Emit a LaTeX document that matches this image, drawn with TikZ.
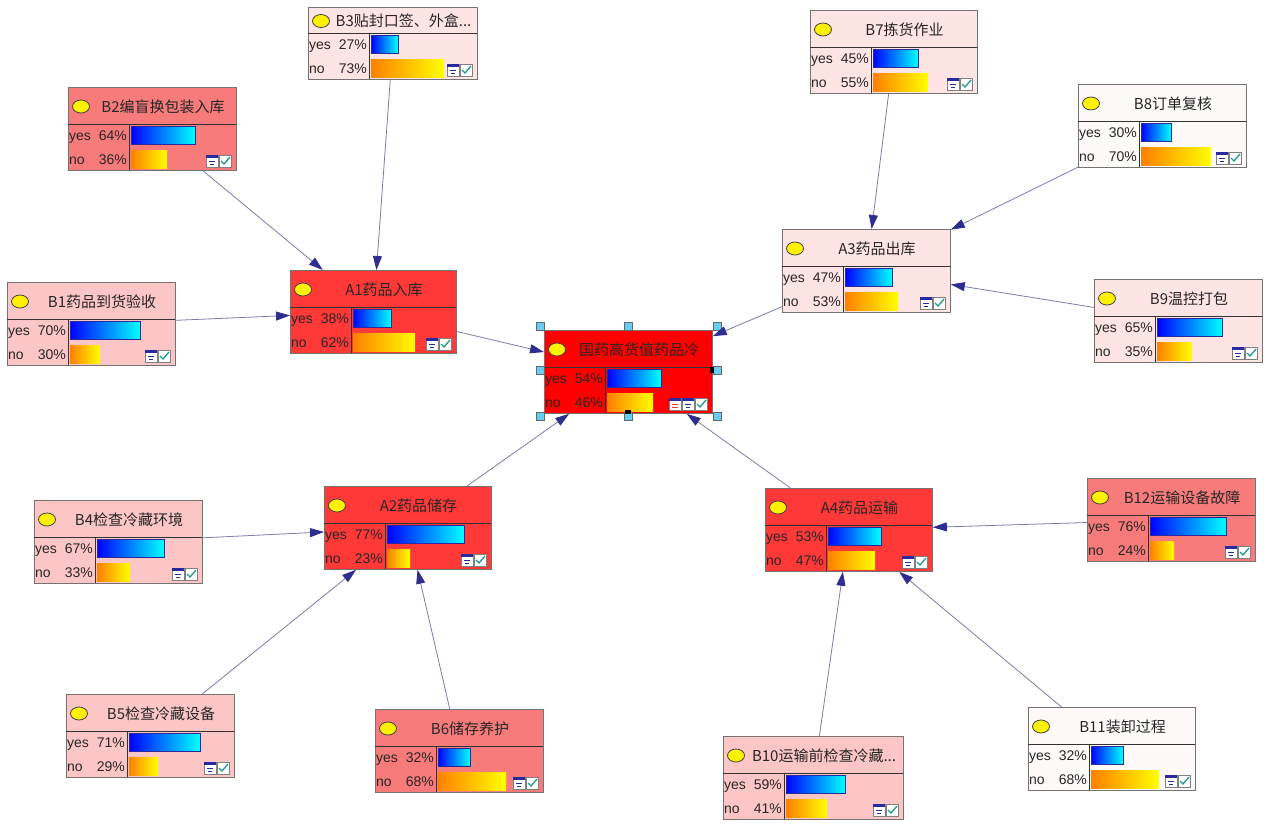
\documentclass[tikz,border=0pt]{standalone}
\usepackage{fontspec}
\setmainfont{Liberation Sans}
\newfontfamily\cjk{Noto Sans CJK SC}
\usetikzlibrary{arrows.meta}

\definecolor{pinkA}{HTML}{FFE4E4}
\definecolor{paleW}{HTML}{FFFAFA}
\definecolor{pinkB}{HTML}{FDC6C6}
\definecolor{salmon}{HTML}{F87B7B}
\definecolor{redA}{HTML}{FF3838}
\definecolor{redC}{HTML}{FF0000}
\definecolor{arrowline}{HTML}{7C7CA8}
\definecolor{arrowhead}{HTML}{2E2E90}
\definecolor{iconblue}{HTML}{2A2AA0}
\definecolor{checkgreen}{HTML}{1E9A8A}
\definecolor{barorange}{HTML}{FF8000}

% one network node: name, x, y, width, header height, fill, title, yes, no
\newcommand{\bnnode}[9]{%
  \pgfmathsetmacro{\bnh}{#5+46}
  \node[netbox, fill=#6, minimum width=#4pt, minimum height=\bnh pt, anchor=north west] (#1) at (#2,#3) {};
  \begin{scope}[shift={(#2,#3)}]
    \draw[divline] (0,#5) -- (#4,#5);
    \draw[divline] (61,#5) -- (61,\bnh);
    \draw[fill=yellow, draw=black!75, line width=0.8pt] (13,#5/2+1) ellipse (8.5pt and 6.5pt);
    \node[titletext] at ({(#4+22)/2},#5/2+1) {#7};
    \node[pcttext, anchor=base west] at (0,#5+16.5) {yes};
    \node[pcttext, anchor=base east] at (60,#5+16.5) {#8\%};
    \node[pcttext, anchor=base west] at (0,#5+40) {no};
    \node[pcttext, anchor=base east] at (60,#5+40) {#9\%};
    \shade[left color=blue, right color=cyan] (63,#5+2) rectangle ({63+#8},#5+20);
    \draw[iconblue, line width=0.8pt] (63,#5+2) rectangle ({63+#8},#5+20);
    \shade[left color=barorange, right color=yellow] (63,#5+26) rectangle ({63+#9},#5+44);
    % table and check icons
    \draw[iconbox] ({#4-30},#5+31) rectangle ++(12,12);
    \fill[iconblue] ({#4-30},#5+31) rectangle ++(12,3);
    \draw[iconblue, line width=1pt] ({#4-27},#5+37) -- ++(6,0) ({#4-26},#5+40) -- ++(4,0);
    \draw[iconbox] ({#4-17},#5+31) rectangle ++(12,12);
    \draw[checkgreen, line width=1.3pt] ({#4-15},#5+37) -- ++(3,3) -- ++(6,-7);
  \end{scope}}

\begin{document}
\begin{tikzpicture}[x=1pt, y=-1pt,
  netbox/.style={rectangle, draw=black!55, line width=0.8pt, inner sep=0pt},
  divline/.style={draw=black!80, line width=1pt},
  titletext/.style={font=\fontsize{15}{17}\cjk, text=black!85, inner sep=0pt},
  pcttext/.style={font=\fontsize{14}{16}\selectfont, text=black!85, inner sep=1pt},
  iconbox/.style={draw=black!50, fill=white, line width=0.6pt},
  handle/.style={draw=black!60, fill=cyan!60, line width=0.5pt},
  link/.style={draw=arrowline, line width=0.8pt, -{Triangle[length=14pt, width=9pt, color=arrowhead]}}]
  \fill[white] (0,0) rectangle (1269,825);
  \useasboundingbox (0,0) rectangle (1269,825);

  % Goal
  \bnnode{goal}{544}{330}{168}{37}{redC}{国药高货值药品冷}{54}{46}
  \begin{scope}[shift={(544,330)}]
    \draw[iconbox] (125,68) rectangle ++(12,12);
    \fill[iconblue] (125,68) rectangle ++(12,3);
    \draw[red!80, line width=1pt] (128,74) -- ++(6,0) (128,77) -- ++(6,0);
  \end{scope}
  \foreach \hx/\hy in {540/326, 628/326, 717/326, 540/370, 717/370, 540/416, 628/416, 717/416}
    \draw[handle] (\hx-4,\hy-4) rectangle ++(8,8);
  \fill[black] (710,367) rectangle ++(4,6);
  \fill[black] (625,410) rectangle ++(6,4);

  % Inbound
  \bnnode{a1}{290}{270}{166}{37}{redA}{A1药品入库}{38}{62}
  \bnnode{b1}{7}{282}{168}{37}{pinkB}{B1药品到货验收}{70}{30}
  \bnnode{b2}{68}{87}{168}{37}{salmon}{B2编盲换包装入库}{64}{36}
  \bnnode{b3}{308}{7}{169}{26}{pinkA}{B3贴封口签、外盒...}{27}{73}

  % Storage
  \bnnode{a2}{324}{486}{167}{37}{redA}{A2药品储存}{77}{23}
  \bnnode{b4}{34}{500}{168}{37}{pinkB}{B4检查冷藏环境}{67}{33}
  \bnnode{b5}{66}{694}{168}{37}{pinkB}{B5检查冷藏设备}{71}{29}
  \bnnode{b6}{375}{709}{168}{37}{salmon}{B6储存养护}{32}{68}

  % Outbound
  \bnnode{a3}{782}{229}{168}{37}{pinkA}{A3药品出库}{47}{53}
  \bnnode{b7}{810}{10}{167}{37}{pinkA}{B7拣货作业}{45}{55}
  \bnnode{b8}{1078}{84}{168}{37}{paleW}{B8订单复核}{30}{70}
  \bnnode{b9}{1094}{279}{168}{37}{pinkA}{B9温控打包}{65}{35}

  % Transport
  \bnnode{a4}{765}{488}{167}{37}{redA}{A4药品运输}{53}{47}
  \bnnode{b10}{723}{736}{180}{37}{pinkB}{B10运输前检查冷藏...}{59}{41}
  \bnnode{b11}{1028}{707}{167}{37}{paleW}{B11装卸过程}{32}{68}
  \bnnode{b12}{1087}{478}{168}{37}{salmon}{B12运输设备故障}{76}{24}

  % Links
  \foreach \src/\dst in {b1/a1, b2/a1, b3/a1, a1/goal,
                         b4/a2, b5/a2, b6/a2, a2/goal,
                         b7/a3, b8/a3, b9/a3, a3/goal,
                         b10/a4, b11/a4, b12/a4, a4/goal}
    \draw[link] (\src) -- (\dst);
\end{tikzpicture}
\end{document}
